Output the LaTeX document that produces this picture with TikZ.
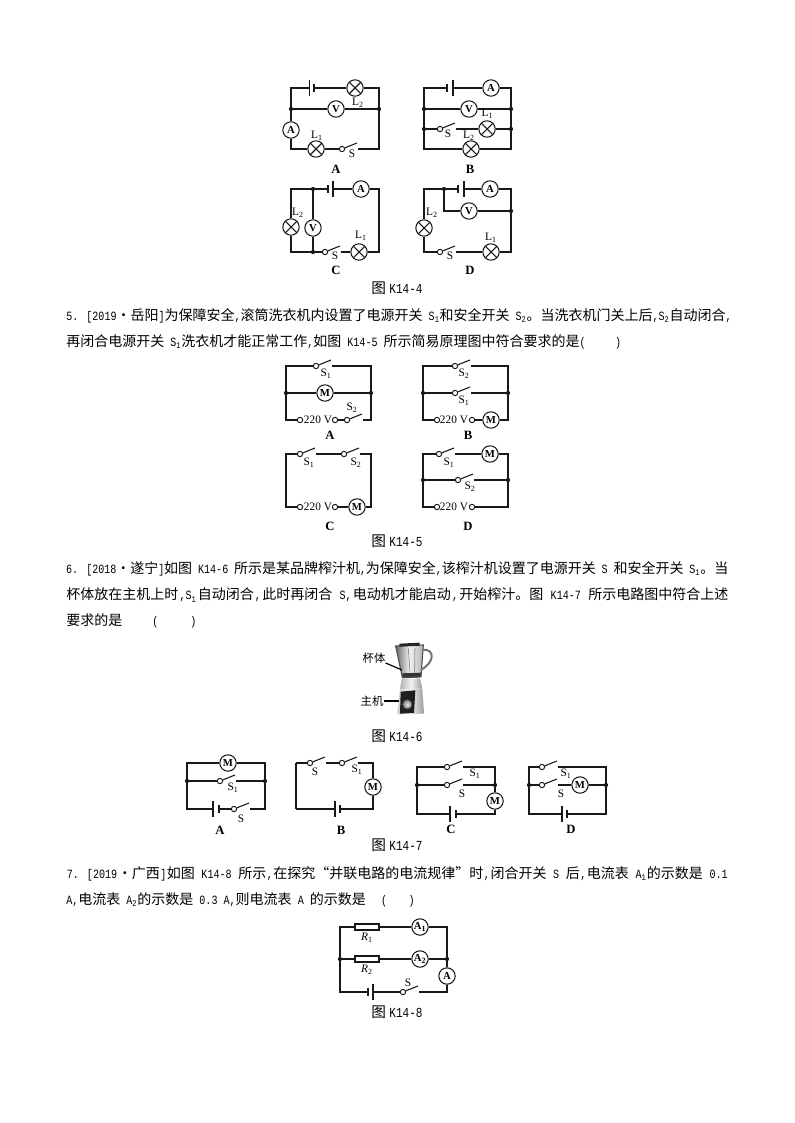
\documentclass[tikz,border=0pt]{standalone}
\usepackage{fontspec}
\setmainfont{Liberation Serif}
\newfontfamily\cjk{Noto Sans CJK SC}
\newfontfamily\lat[Scale=0.9,FakeStretch=0.8]{Liberation Mono}
\newcommand\jg{\hskip 0pt plus 1fil minus 3pt\relax}
\newcommand\la[1]{\jg{\lat #1}\jg}
\newcommand\sbs[1]{\textsubscript{#1}}
\newcommand\dotc{\makebox[10.5pt][c]{\textbullet}}
\tikzset{
 x=0.75pt,y=-0.75pt,
 wire/.style={line width=0.8pt,black!90},
 thickwire/.style={line width=1.2pt,black!90},
 lamp/.style={circle,draw=black!90,line width=0.8pt,minimum size=12.3pt,inner sep=0pt,
   path picture={\draw[line width=0.8pt,black!90] ([xshift=-6pt,yshift=6pt]path picture bounding box.center) -- ([xshift=6pt,yshift=-6pt]path picture bounding box.center)
   ([xshift=-6pt,yshift=-6pt]path picture bounding box.center) -- ([xshift=6pt,yshift=6pt]path picture bounding box.center);}},
 meter/.style={circle,draw=black!90,line width=0.8pt,minimum size=12.3pt,inner sep=0pt,fill=white,font=\fontsize{8pt}{9pt}\selectfont\bfseries},
 dotn/.style={circle,fill=black!90,minimum size=3.2pt,inner sep=0pt},
 term/.style={circle,draw=black!90,fill=white,line width=0.75pt,minimum size=4pt,inner sep=0pt},
 lab/.style={inner sep=0pt,font=\fontsize{8.5pt}{9pt}\selectfont},
 opt/.style={inner sep=0pt,font=\fontsize{9.5pt}{10pt}\selectfont\bfseries},
 captxt/.style={inner sep=0pt,font=\fontsize{11pt}{12pt}\selectfont},
 body/.style={inner sep=0pt,anchor=west,font=\fontsize{10.5pt}{12pt}\cjk\selectfont},
 res/.style={rectangle,draw=black!90,line width=0.8pt,minimum width=18pt,minimum height=4.5pt,inner sep=0pt},
}
\newcommand\swt[3]{% name, x, y : pivot, blade end, resume point
 \node[term] (#1) at (#2,#3) {};
 \coordinate (#1e) at (#2+15,#3-6);
 \coordinate (#1r) at (#2+16,#3);
 \draw[wire] (#1) -- (#1e);}
\newcommand\bat[4]{% name, x long, x short, y
 \coordinate (#1l) at (#2,#4);
 \coordinate (#1s) at (#3,#4);
 \draw[line width=0.8pt,black!90] (#2,#4-8) -- (#2,#4+8);
 \draw[line width=1.3pt,black!90] (#3,#4-4) -- (#3,#4+4);}
\newcommand\capt[4]{\node[captxt] (#1) at (#2,#3) {{\cjk 图}\hspace{2.5pt}{\fontsize{11.5pt}{12pt}\lat #4}};}
\begin{document}
\begin{tikzpicture}
\useasboundingbox (0,0) rectangle (794,1123);
\fill[white] (0,0) rectangle (794,1123);

% ---------- K14-4 A
\foreach \n/\x/\y in {aTL/291/88,aTR/379/88,aBL/291/149,aBR/379/149} {\coordinate (\n) at (\x,\y);}
\node[dotn] (aML) at (291,109) {};
\node[dotn] (aMR) at (379,109) {};
\bat{aB}{309.5}{314}{88}
\node[lamp] (aL2) at (355,88) {};
\node[meter] (aV) at (336,109) {V};
\node[meter] (aA) at (291,130) {A};
\node[lamp] (aL1) at (316,149) {};
\swt{aS}{342}{149}
\draw[wire] (aBl) -- (aTL) -- (aML);
\draw[wire] (aBs) -- (aL2);
\draw[wire] (aL2) -- (aTR) -- (aMR);
\draw[wire] (aMR) -- (aBR) -- (aSr);
\draw[wire] (aML) -- (aV);
\draw[wire] (aV) -- (aMR);
\draw[wire] (aML) -- (aA);
\draw[wire] (aA) -- (aBL) -- (aL1);
\draw[wire] (aL1) -- (aS);
\node[lab] (atL2) at (358,103) {L\sbs{2}};
\node[lab] (atL1) at (317,136) {L\sbs{1}};
\node[lab] (atS) at (352,154) {S};
\node[opt] (atO) at (336,169) {A};

% ---------- K14-4 B
\foreach \n/\x/\y in {bTL/424/88,bTR/511/88,bBL/424/149,bBR/511/149} {\coordinate (\n) at (\x,\y);}
\node[dotn] (bM1L) at (424,109) {};
\node[dotn] (bM1R) at (511,109) {};
\node[dotn] (bM2L) at (424,129) {};
\node[dotn] (bM2R) at (511,129) {};
\bat{bB}{453}{447}{88}
\node[meter] (bA) at (491,88) {A};
\node[meter] (bV) at (469,109) {V};
\node[lamp] (bL1) at (487,129) {};
\node[lamp] (bL2) at (471,149) {};
\swt{bS}{440}{129}
\draw[wire] (bBs) -- (bTL) -- (bBL) -- (bL2);
\draw[wire] (bL2) -- (bBR) -- (bTR) -- (bA);
\draw[wire] (bA) -- (bBl);
\draw[wire] (bM1L) -- (bV);
\draw[wire] (bV) -- (bM1R);
\draw[wire] (bM2L) -- (bS);
\draw[wire] (bSr) -- (bL1);
\draw[wire] (bL1) -- (bM2R);
\node[lab] (btL1) at (487.5,114) {L\sbs{1}};
\node[lab] (btL2) at (469,136) {L\sbs{2}};
\node[lab] (btS) at (448,134) {S};
\node[opt] (btO) at (470,169) {B};

% ---------- K14-4 C
\foreach \n/\x/\y in {cTL/291/189,cTR/379/189,cBL/291/252,cBR/379/252} {\coordinate (\n) at (\x,\y);}
\node[dotn] (cJT) at (313,189) {};
\node[dotn] (cJB) at (313,252) {};
\bat{cB}{333}{328}{189}
\node[meter] (cA) at (361,189) {A};
\node[lamp] (cL2) at (291,227) {};
\node[meter] (cV) at (313,228) {V};
\node[lamp] (cL1) at (359,252) {};
\swt{cS}{325}{252}
\draw[wire] (cBs) -- (cJT) -- (cTL) -- (cL2);
\draw[wire] (cL2) -- (cBL) -- (cJB) -- (cS);
\draw[wire] (cJT) -- (cV);
\draw[wire] (cV) -- (cJB);
\draw[wire] (cBl) -- (cA);
\draw[wire] (cA) -- (cTR) -- (cBR) -- (cL1);
\draw[wire] (cSr) -- (cL1);
\node[lab] (ctL2) at (298,213) {L\sbs{2}};
\node[lab] (ctL1) at (361,236) {L\sbs{1}};
\node[lab] (ctS) at (335,256) {S};
\node[opt] (ctO) at (336,270) {C};

% ---------- K14-4 D
\foreach \n/\x/\y in {dTL/424/189,dTR/511/189,dBL/424/252,dBR/511/252} {\coordinate (\n) at (\x,\y);}
\node[dotn] (dJ) at (444,189) {};
\node[dotn] (dMR) at (511,211) {};
\coordinate (dMJ) at (444,211);
\bat{dB}{464}{458}{189}
\node[meter] (dA) at (490,189) {A};
\node[meter] (dV) at (469,211) {V};
\node[lamp] (dL2) at (424,228) {};
\node[lamp] (dL1) at (491,252) {};
\swt{dS}{440}{252}
\draw[wire] (dBs) -- (dJ) -- (dTL) -- (dL2);
\draw[wire] (dL2) -- (dBL) -- (dS);
\draw[wire] (dSr) -- (dL1);
\draw[wire] (dL1) -- (dBR) -- (dMR) -- (dTR) -- (dA);
\draw[wire] (dA) -- (dBl);
\draw[wire] (dJ) -- (dMJ) -- (dV);
\draw[wire] (dV) -- (dMR);
\node[lab] (dtL2) at (432,213) {L\sbs{2}};
\node[lab] (dtL1) at (491,238) {L\sbs{1}};
\node[lab] (dtS) at (450,256) {S};
\node[opt] (dtO) at (470,270) {D};
\capt{c4}{397}{288}{K14-4}

% ---------- text
\node[body] (t1) at (66,316) {\hbox to 499pt{\la{5. [2019}\dotc 岳阳\la{]}为保障安全\la{,}滚筒洗衣机内设置了电源开关\la{ S\sbs{1}}和安全开关\la{ S\sbs{2}}。当洗衣机门关上后\la{,S\sbs{2}}自动闭合\la{,}}};
\node[body] (t2) at (66,342) {\la{}再闭合电源开关\la{ S\sbs{1}}洗衣机才能正常工作\la{,}如图\la{ K14-5 }所示简易原理图中符合要求的是\la{(}\hspace{22pt}\la{)}};

% ---------- K14-5 A
\foreach \n/\x/\y in {eTL/286/366,eTR/371/366,eBL/286/420,eBR/371/420} {\coordinate (\n) at (\x,\y);}
\node[dotn] (eML) at (286,393) {};
\node[dotn] (eMR) at (371,393) {};
\swt{eS1}{316}{366}
\swt{eS2}{347}{420}
\node[meter] (eM) at (325,393) {M};
\node[term] (eP1) at (300,420) {};
\node[term] (eP2) at (335,420) {};
\draw[wire] (eS1) -- (eTL) -- (eBL) -- (eP1);
\draw[wire] (eS1r) -- (eTR) -- (eBR) -- (eS2r);
\draw[thickwire] (eML) -- (eM);
\draw[thickwire] (eM) -- (eMR);
\draw[wire] (eP2) -- (eS2);
\node[lab] (etV) at (318,420) {220 V};
\node[lab] (etS1) at (326,374) {S\sbs{1}};
\node[lab] (etS2) at (352,408) {S\sbs{2}};
\node[opt] (etO) at (330,435) {A};

% ---------- K14-5 B
\foreach \n/\x/\y in {fTL/423/366,fTR/508/366,fBL/423/420,fBR/508/420} {\coordinate (\n) at (\x,\y);}
\node[dotn] (fML) at (423,393) {};
\node[dotn] (fMR) at (508,393) {};
\swt{fS2}{455}{366}
\swt{fS1}{455}{393}
\node[term] (fP1) at (437,420) {};
\node[term] (fP2) at (472,420) {};
\node[meter] (fM) at (491,420) {M};
\draw[wire] (fS2) -- (fTL) -- (fBL) -- (fP1);
\draw[wire] (fS2r) -- (fTR) -- (fBR) -- (fM);
\draw[wire] (fML) -- (fS1);
\draw[wire] (fS1r) -- (fMR);
\draw[wire] (fP2) -- (fM);
\node[lab] (ftV) at (454,420) {220 V};
\node[lab] (ftS2) at (464,374) {S\sbs{2}};
\node[lab] (ftS1) at (464,401) {S\sbs{1}};
\node[opt] (ftO) at (468,435) {B};

% ---------- K14-5 C
\foreach \n/\x/\y in {gTL/286/454,gTR/371/454,gBL/286/507,gBR/371/507} {\coordinate (\n) at (\x,\y);}
\swt{gS1}{300}{454}
\swt{gS2}{344}{454}
\node[term] (gP1) at (300,507) {};
\node[term] (gP2) at (335,507) {};
\node[meter] (gM) at (357,507) {M};
\draw[wire] (gS1) -- (gTL) -- (gBL) -- (gP1);
\draw[wire] (gS1r) -- (gS2);
\draw[wire] (gS2r) -- (gTR) -- (gBR) -- (gM);
\draw[wire] (gP2) -- (gM);
\node[lab] (gtV) at (318,507) {220 V};
\node[lab] (gtS1) at (309,463) {S\sbs{1}};
\node[lab] (gtS2) at (356,463) {S\sbs{2}};
\node[opt] (gtO) at (330,526) {C};

% ---------- K14-5 D
\foreach \n/\x/\y in {hTL/423/454,hTR/508/454,hBL/423/507,hBR/508/507} {\coordinate (\n) at (\x,\y);}
\node[dotn] (hML) at (423,480) {};
\node[dotn] (hMR) at (508,480) {};
\swt{hS1}{439}{454}
\swt{hS2}{458}{480}
\node[meter] (hM) at (490,454) {M};
\node[term] (hP1) at (437,507) {};
\node[term] (hP2) at (472,507) {};
\draw[wire] (hS1) -- (hTL) -- (hBL) -- (hP1);
\draw[wire] (hS1r) -- (hM);
\draw[wire] (hM) -- (hTR) -- (hBR) -- (hP2);
\draw[wire] (hML) -- (hS2);
\draw[wire] (hS2r) -- (hMR);
\node[lab] (htV) at (454,507) {220 V};
\node[lab] (htS1) at (449,463) {S\sbs{1}};
\node[lab] (htS2) at (470,487) {S\sbs{2}};
\node[opt] (htO) at (468,526) {D};
\capt{c5}{397}{541}{K14-5}

% ---------- text
\node[body] (t3) at (66,569) {\hbox to 496.5pt{\la{6. [2018}\dotc 遂宁\la{]}如图\la{ K14-6 }所示是某品牌榨汁机\la{,}为保障安全\la{,}该榨汁机设置了电源开关\la{ S }和安全开关\la{ S\sbs{1}}。当}};
\node[body] (t4) at (66,595) {\hbox to 496.5pt{杯体放在主机上时\la{,S\sbs{1}}自动闭合\la{,}此时再闭合\la{ S,}电动机才能启动\la{,}开始榨汁。图\la{ K14-7 }所示电路图中符合上述}};
\node[body] (t5) at (66,621) {要求的是\hspace{22.5pt}\la{(}\hspace{24pt}\la{)}};

% ---------- blender
\begin{scope}[shift={(340,635)},x=0.25pt,y=-0.25pt]
 \shade[left color=black!60,right color=black!30,middle color=black!5]
   (167,33) -- (250,30) -- (243,125) -- (187,127) -- cycle;
 \fill[black!80] (187,115) -- (243,113) -- (243,127) -- (187,130) -- cycle;
 \draw[black!70,line width=0.8pt] (167,33) -- (250,30) -- (243,125) -- (187,127) -- cycle;
 \draw[black!55] (205,40) -- (210,112) (225,40) -- (224,112);
 \fill[black!85] (178,26) -- (238,23) -- (240,32) -- (178,35) -- cycle;
 \draw[black!55,line width=1.5pt] (248,44) .. controls (285,42) and (285,80) .. (243,105);
 \shade[left color=black!30,right color=black!40,middle color=black!5]
   (185,132) -- (240,130) -- (247,160) -- (180,162) -- cycle;
 \shade[left color=black!20,right color=black!40,middle color=black!5]
   (180,162) -- (247,160) -- (252,236) -- (172,238) -- cycle;
 \fill[black!88] (182,170) -- (226,166) -- (222,234) -- (180,236) -- cycle;
 \shade[inner color=black!10,outer color=black!50] (202,208) circle (14);
 \draw[black!70] (202,208) circle (14);
\end{scope}
\node[inner sep=0pt,font=\fontsize{8.5pt}{9pt}\cjk\selectfont] (tCup) at (374,658) {杯体};
\node[inner sep=0pt,font=\fontsize{8.5pt}{9pt}\cjk\selectfont] (tBase) at (372,701) {主机};
\coordinate (cupE) at (402,670);
\coordinate (baseE) at (399,701);
\draw[line width=0.85pt] (tCup) -- (cupE);
\draw[line width=0.85pt] (tBase) -- (baseE);
\capt{c6}{397}{736}{K14-6}

% ---------- K14-7 A
\foreach \n/\x/\y in {iTL/187/763,iTR/265/763,iBL/187/809,iBR/265/809} {\coordinate (\n) at (\x,\y);}
\node[dotn] (iML) at (187,781) {};
\node[dotn] (iMR) at (265,781) {};
\node[meter] (iM) at (228,763) {M};
\swt{iS1}{220}{781}
\swt{iS}{234}{809}
\bat{iB}{213}{219}{809}
\draw[wire] (iM) -- (iTL) -- (iBL) -- (iBl);
\draw[wire] (iM) -- (iTR) -- (iBR) -- (iSr);
\draw[wire] (iML) -- (iS1);
\draw[wire] (iS1r) -- (iMR);
\draw[wire] (iBs) -- (iS);
\node[lab] (itS1) at (233,788) {S\sbs{1}};
\node[lab] (itS) at (241,819) {S};
\node[opt] (itO) at (220,830) {A};

% ---------- K14-7 B
\foreach \n/\x/\y in {jTL/296/763,jTR/373/763,jBL/296/809,jBR/373/809} {\coordinate (\n) at (\x,\y);}
\swt{jS}{310}{763}
\swt{jS1}{342}{763}
\node[meter] (jM) at (373,787) {M};
\bat{jB}{335}{340}{809}
\draw[wire] (jS) -- (jTL);
\draw[thickwire] (jTL) -- (jBL);
\draw[wire] (jBL) -- (jBl);
\draw[wire] (jSr) -- (jS1);
\draw[wire] (jS1r) -- (jTR) -- (jM);
\draw[wire] (jM) -- (jBR) -- (jBs);
\node[lab] (jtS) at (315,772) {S};
\node[lab] (jtS1) at (357,770) {S\sbs{1}};
\node[opt] (jtO) at (341,830) {B};

% ---------- K14-7 C
\foreach \n/\x/\y in {kTL/417/767,kTR/495/767,kBL/417/814,kBR/495/814} {\coordinate (\n) at (\x,\y);}
\node[dotn] (kML) at (417,785) {};
\node[dotn] (kMR) at (495,785) {};
\swt{kS1}{447}{767}
\swt{kS}{447}{785}
\node[meter] (kM) at (495,801) {M};
\bat{kB}{450}{456}{814}
\draw[wire] (kS1) -- (kTL) -- (kBL) -- (kBl);
\draw[wire] (kS1r) -- (kTR) -- (kMR) -- (kM);
\draw[wire] (kML) -- (kS);
\draw[wire] (kSr) -- (kMR);
\draw[wire] (kM) -- (kBR) -- (kBs);
\node[lab] (ktS1) at (475,774) {S\sbs{1}};
\node[lab] (ktS) at (462,794) {S};
\node[opt] (ktO) at (451,829) {C};

% ---------- K14-7 D
\foreach \n/\x/\y in {lTL/529/767,lTR/606/767,lBL/529/814,lBR/606/814} {\coordinate (\n) at (\x,\y);}
\node[dotn] (lML) at (529,785) {};
\node[dotn] (lMR) at (606,785) {};
\swt{lS1}{542}{767}
\swt{lS}{542}{785}
\node[meter] (lM) at (580,785) {M};
\bat{lB}{562}{567}{814}
\draw[wire] (lS1) -- (lTL) -- (lBL) -- (lBl);
\draw[wire] (lS1r) -- (lTR) -- (lBR) -- (lBs);
\draw[wire] (lML) -- (lS);
\draw[wire] (lSr) -- (lM);
\draw[wire] (lM) -- (lMR);
\node[lab] (ltS1) at (566,774) {S\sbs{1}};
\node[lab] (ltS) at (561,794) {S};
\node[opt] (ltO) at (571,829) {D};
\capt{c7}{397}{845}{K14-7}

% ---------- text
\node[body] (t6) at (66,874) {\hbox to 496.5pt{\la{7. [2019}\dotc 广西\la{]}如图\la{ K14-8 }所示\la{,}在探究“并联电路的电流规律”时\la{,}闭合开关\la{ S }后\la{,}电流表\la{ A\sbs{1}}的示数是\la{ 0.1}}};
\node[body] (t7) at (66,900) {\la{A,}电流表\la{ A\sbs{2}}的示数是\la{ 0.3 A,}则电流表\la{ A }的示数是\hspace{7pt}\la{ (}\hspace{16pt}\la{)}};

% ---------- K14-8
\foreach \n/\x/\y in {mTL/340/927,mTR/447/927,mBL/340/992,mBR/447/992} {\coordinate (\n) at (\x,\y);}
\node[dotn] (mML) at (340,959) {};
\node[dotn] (mMR) at (447,959) {};
\node[res] (mR1) at (367,927) {};
\node[res,line width=1.3pt] (mR2) at (367,959) {};
\node[meter] (mA1) at (420,927) {A\sbs{1}};
\node[meter] (mA2) at (420,959) {A\sbs{2}};
\node[meter] (mA) at (447,976) {A};
\bat{mB}{373}{368}{992}
\swt{mS}{403}{992}
\draw[wire] (mR1) -- (mTL) -- (mBL) -- (mBs);
\draw[wire] (mR1) -- (mA1);
\draw[wire] (mA1) -- (mTR) -- (mMR) -- (mA);
\draw[wire] (mA) -- (mBR) -- (mSr);
\draw[wire] (mML) -- (mR2);
\draw[wire] (mR2) -- (mA2);
\draw[wire] (mA2) -- (mMR);
\draw[wire] (mBl) -- (mS);
\node[lab,font=\fontsize{8.5pt}{9pt}\selectfont\itshape] (mtR1) at (367,938) {R\textsubscript{\upshape 1}};
\node[lab,font=\fontsize{8.5pt}{9pt}\selectfont\itshape] (mtR2) at (367,970) {R\textsubscript{\upshape 2}};
\node[lab] (mtS) at (408,983) {S};
\capt{c8}{397}{1012}{K14-8}
\end{tikzpicture}
\end{document}
